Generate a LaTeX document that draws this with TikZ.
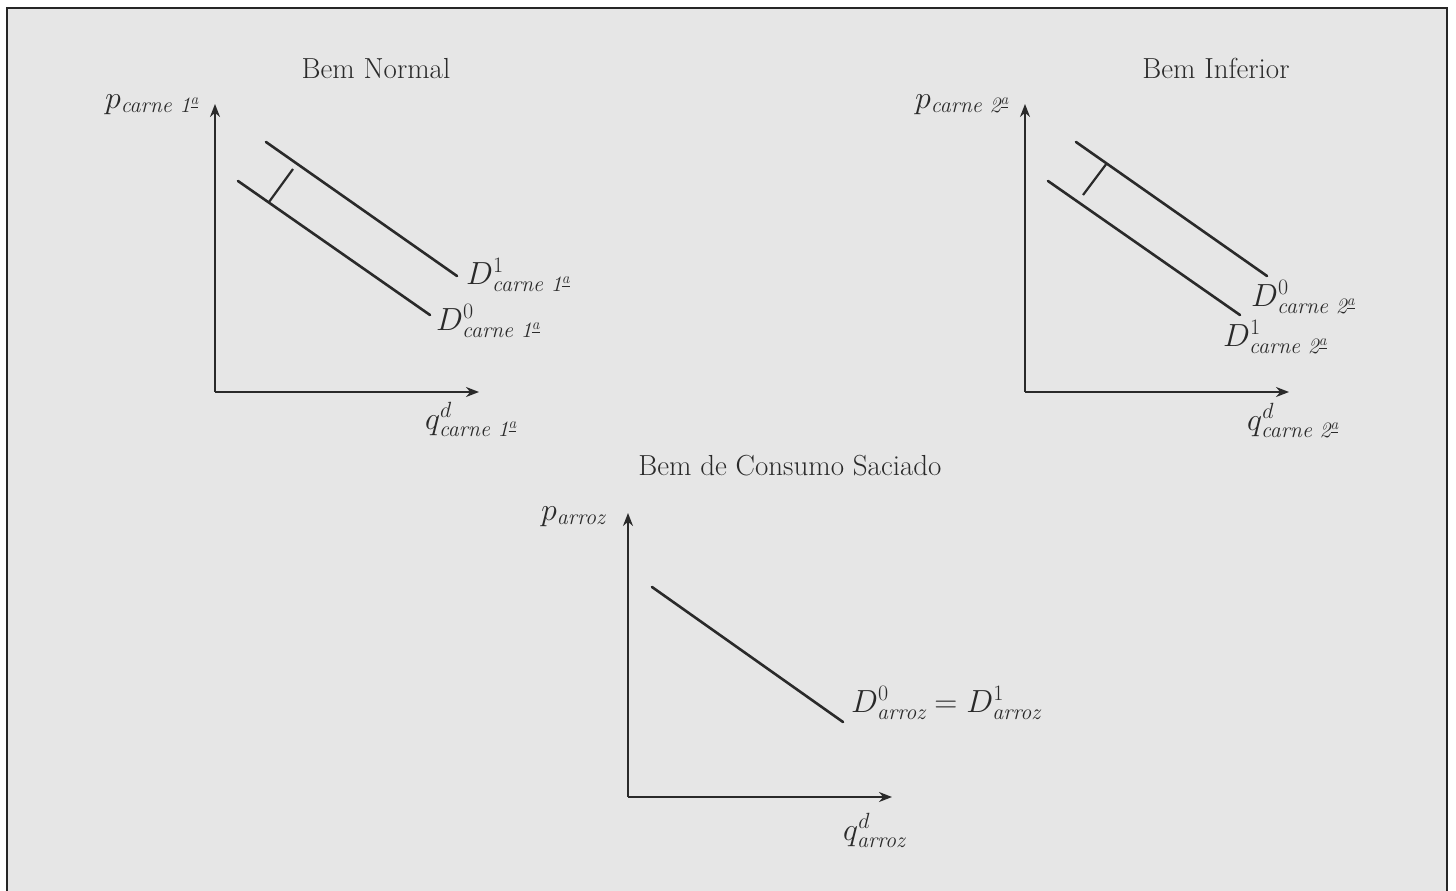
\RequirePackage{fix-cm}
\documentclass[tikz,border=0pt]{standalone}
\usepackage{amsmath}
\usepackage{fontspec}
\usetikzlibrary{arrows.meta}
\DeclareMathSizes{32}{32}{22}{16}
\definecolor{bgray}{HTML}{E6E6E6}
\definecolor{ink}{HTML}{2A2A2A}
\newcommand{\ordA}{\textsuperscript{\underline{a}}}
\begin{document}
\begin{tikzpicture}[x=1pt,y=-1pt,
  axis/.style={line width=2pt,draw=ink,-{Stealth[length=13pt,width=10pt]}},
  dline/.style={line width=2.6pt,draw=ink,line cap=round},
  shiftmark/.style={line width=2.2pt,draw=ink},
  ttl/.style={inner sep=0pt,anchor=base,font=\fontsize{29}{34}\selectfont,text=ink},
  lbl/.style={inner sep=0pt,anchor=base west,font=\fontsize{32}{38}\selectfont,text=ink}]
\useasboundingbox (0,0) rectangle (1456,891);
\begin{scope}
\clip (0,0) rectangle (1456,891);
\draw[fill=bgray,draw=black!85,line width=2pt] (7,8) rectangle (1447,900);
\end{scope}

% ---------- Panel 1: Bem Normal ----------
\node[ttl] (t1) at (376,78) {Bem Normal};
\coordinate (o1) at (215,392);
\coordinate (y1) at (215,104);
\coordinate (x1) at (479,392);
\draw[axis] (o1) -- (y1);
\draw[axis] (o1) -- (x1);
\coordinate (a1s) at (266,142); \coordinate (a1e) at (457,276);
\coordinate (b1s) at (238,181); \coordinate (b1e) at (430,315);
\draw[dline] (a1s) -- (a1e);
\draw[dline] (b1s) -- (b1e);
\coordinate (m1a) at (269,202); \coordinate (m1b) at (293,169);
\draw[shiftmark] (m1a) -- (m1b);
\node[lbl] (p1) at (105,108) {$p_{\textit{carne 1\ordA}}$};
\node[lbl] (d11) at (466,284) {$D^{1}_{\textit{carne 1\ordA}}$};
\node[lbl] (d10) at (436,330) {$D^{0}_{\textit{carne 1\ordA}}$};
\node[lbl] (q1) at (425,429) {$q^{d}_{\textit{carne 1\ordA}}$};

% ---------- Panel 2: Bem Inferior ----------
\node[ttl] (t2) at (1216,78) {Bem Inferior};
\coordinate (o2) at (1025,392);
\coordinate (y2) at (1025,104);
\coordinate (x2) at (1289,392);
\draw[axis] (o2) -- (y2);
\draw[axis] (o2) -- (x2);
\coordinate (a2s) at (1076,142); \coordinate (a2e) at (1267,276);
\coordinate (b2s) at (1048,181); \coordinate (b2e) at (1240,315);
\draw[dline] (a2s) -- (a2e);
\draw[dline] (b2s) -- (b2e);
\coordinate (m2a) at (1107,163); \coordinate (m2b) at (1083,195);
\draw[shiftmark] (m2a) -- (m2b);
\node[lbl] (p2) at (915,108) {$p_{\textit{carne 2\ordA}}$};
\node[lbl] (d20) at (1251,306) {$D^{0}_{\textit{carne 2\ordA}}$};
\node[lbl] (d21) at (1223,346) {$D^{1}_{\textit{carne 2\ordA}}$};
\node[lbl] (q2) at (1247,430) {$q^{d}_{\textit{carne 2\ordA}}$};

% ---------- Panel 3: Bem de Consumo Saciado ----------
\node[ttl] (t3) at (790,475) {Bem de Consumo Saciado};
\coordinate (o3) at (628,797);
\coordinate (y3) at (628,513);
\coordinate (x3) at (892,797);
\draw[axis] (o3) -- (y3);
\draw[axis] (o3) -- (x3);
\coordinate (c3s) at (652,587); \coordinate (c3e) at (843,722);
\draw[dline] (c3s) -- (c3e);
\node[lbl] (p3) at (541,520) {$p_{\textit{arroz}}$};
\node[lbl] (d3) at (851,712) {$D^{0}_{\textit{arroz}} = D^{1}_{\textit{arroz}}$};
\node[lbl] (q3) at (843,840) {$q^{d}_{\textit{arroz}}$};
\end{tikzpicture}
\end{document}
